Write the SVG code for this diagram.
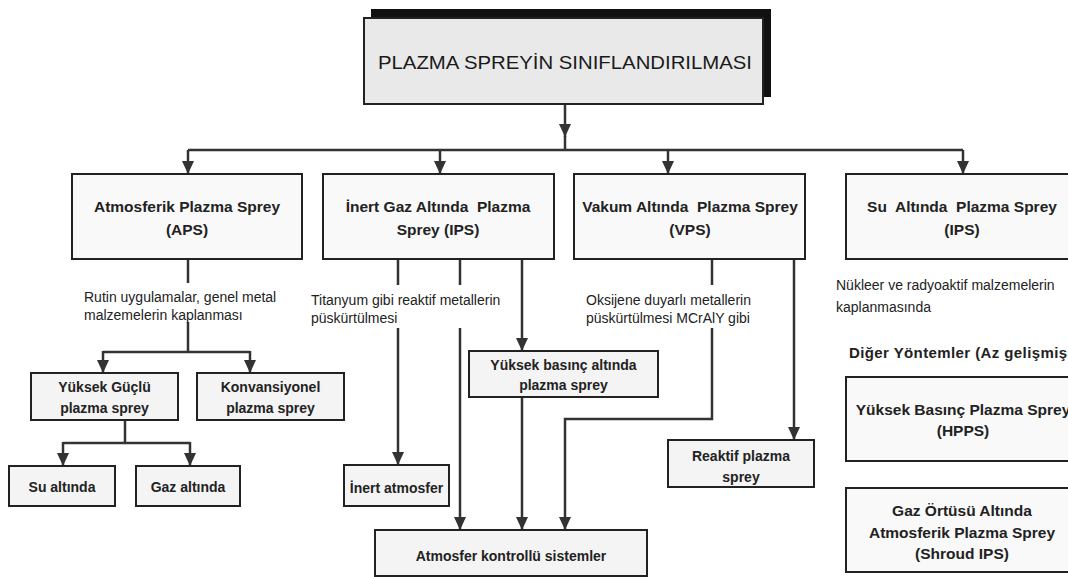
<svg xmlns="http://www.w3.org/2000/svg" width="1068" height="577" viewBox="0 0 1068 577">
<style>
text{white-space:pre}
.box{fill:#f4f4f4;stroke:#222;stroke-width:2}
.box1{fill:#f9f9f9;stroke:#222;stroke-width:2}
.t{font-family:"Liberation Sans",Arial,sans-serif;font-weight:bold;font-size:14px;fill:#222;text-anchor:middle}
.t1{font-family:"Liberation Sans",Arial,sans-serif;font-weight:bold;font-size:15.5px;fill:#222;text-anchor:middle}
.n{font-family:"Liberation Sans",Arial,sans-serif;font-size:14px;fill:#222}
.c{fill:none;stroke:#333;stroke-width:2.5}
.ca{fill:none;stroke:#333;stroke-width:2.5;marker-end:url(#ah)}
</style>
<defs>
<marker id="ah" markerUnits="userSpaceOnUse" markerWidth="13" markerHeight="12" refX="13" refY="6" orient="auto" viewBox="0 0 13 12">
<path d="M0,0 L13,6 L0,12 z" fill="#333"/>
</marker>
</defs>
<rect width="1068" height="577" fill="#fff"/>
<g id="connectors">
<path class="ca" d="M565,104 V137"/>
<path class="c" d="M565,136 V150"/>
<path class="c" d="M188,150 H963"/>
<path class="ca" d="M188,150 V174"/>
<path class="ca" d="M440,150 V174"/>
<path class="ca" d="M668,150 V174"/>
<path class="ca" d="M963,150 V174"/>
<path class="c" d="M188,259 V283"/>
<path class="c" d="M188,322 V352 M103,352 H250"/>
<path class="ca" d="M103,351 V373"/>
<path class="ca" d="M250,351 V373"/>
<path class="c" d="M125,420 V443 M63,443 H190"/>
<path class="ca" d="M63,442 V466"/>
<path class="ca" d="M190,442 V466"/>
<path class="c" d="M398,259 V285 M460,259 V285"/>
<path class="ca" d="M522,259 V351"/>
<path class="ca" d="M398,328 V465"/>
<path class="ca" d="M460,328 V530"/>
<path class="ca" d="M522,397 V530"/>
<path class="c" d="M712,259 V285"/>
<path class="ca" d="M712,328 V419 H565 V530"/>
<path class="ca" d="M794,259 V440"/>
</g>
<g id="title">
<rect x="371" y="9" width="400" height="88" fill="#111"/>
<rect x="364" y="18" width="399" height="86" fill="#e9e9e9" stroke="#222" stroke-width="2"/>
<text x="565" y="69" font-family="'Liberation Sans',Arial,sans-serif" font-size="19" fill="#1a1a1a" text-anchor="middle" textLength="374" lengthAdjust="spacingAndGlyphs">PLAZMA SPREYİN SINIFLANDIRILMASI</text>
</g>
<g id="aps">
<rect class="box1" x="72" y="174" width="230" height="85"/>
<text class="t1" x="187" y="212">Atmosferik Plazma Sprey</text>
<text class="t1" x="187" y="235">(APS)</text>
</g>
<g id="ips">
<rect class="box1" x="323" y="174" width="231" height="85"/>
<text class="t1" x="438" y="212">İnert Gaz Altında  Plazma</text>
<text class="t1" x="438" y="235">Sprey (IPS)</text>
</g>
<g id="vps">
<rect class="box1" x="574" y="174" width="231" height="85"/>
<text class="t1" x="690" y="212">Vakum Altında  Plazma Sprey</text>
<text class="t1" x="690" y="235">(VPS)</text>
</g>
<g id="su-ips">
<rect class="box1" x="846" y="174" width="240" height="85"/>
<text class="t1" x="962" y="212">Su  Altında  Plazma Sprey</text>
<text class="t1" x="962" y="235">(IPS)</text>
</g>
<g id="note-aps">
<text class="n" x="84" y="302">Rutin uygulamalar, genel metal</text>
<text class="n" x="84" y="320">malzemelerin kaplanması</text>
</g>
<g id="note-ips">
<text class="n" x="311" y="305">Titanyum gibi reaktif metallerin</text>
<text class="n" x="311" y="323">püskürtülmesi</text>
</g>
<g id="note-vps">
<text class="n" x="586" y="305">Oksijene duyarlı metallerin</text>
<text class="n" x="586" y="323">püskürtülmesi MCrAlY gibi</text>
</g>
<g id="note-su">
<text class="n" x="836" y="290">Nükleer ve radyoaktif malzemelerin</text>
<text class="n" x="836" y="312">kaplanmasında</text>
</g>
<g id="yuksek-guclu">
<rect class="box" x="31" y="373" width="147" height="47"/>
<text class="t" x="104.5" y="392">Yüksek Güçlü</text>
<text class="t" x="104.5" y="413">plazma sprey</text>
</g>
<g id="konvansiyonel">
<rect class="box" x="197" y="373" width="147" height="47"/>
<text class="t" x="270.5" y="392">Konvansiyonel</text>
<text class="t" x="270.5" y="413">plazma sprey</text>
</g>
<g id="su-altinda">
<rect class="box" x="9" y="466" width="106" height="40"/>
<text class="t" x="62" y="492">Su altında</text>
</g>
<g id="gaz-altinda">
<rect class="box" x="136" y="466" width="104" height="40"/>
<text class="t" x="188" y="492">Gaz altında</text>
</g>
<g id="inert-atmosfer">
<rect class="box" x="344" y="465" width="105" height="41"/>
<text class="t" x="396.5" y="493">İnert atmosfer</text>
</g>
<g id="yuksek-basinc">
<rect class="box" x="469" y="351" width="189" height="46"/>
<text class="t" x="563.5" y="370">Yüksek basınç altında</text>
<text class="t" x="563.5" y="390">plazma sprey</text>
</g>
<g id="atmosfer-kontrollu">
<rect class="box" x="375" y="530" width="272" height="46"/>
<text class="t" x="511" y="561">Atmosfer kontrollü sistemler</text>
</g>
<g id="reaktif">
<rect class="box" x="668" y="440" width="146" height="47"/>
<text class="t" x="741" y="461">Reaktif plazma</text>
<text class="t" x="741" y="482">sprey</text>
</g>
<g id="diger">
<text x="849" y="358" font-family="'Liberation Sans',Arial,sans-serif" font-weight="bold" font-size="15" letter-spacing="0.4" fill="#222">Diğer Yöntemler (Az gelişmiş</text>
</g>
<g id="hpps">
<rect class="box1" x="846" y="377" width="240" height="84"/>
<text class="t1" x="963" y="415">Yüksek Basınç Plazma Sprey</text>
<text class="t1" x="963" y="436">(HPPS)</text>
</g>
<g id="shroud">
<rect class="box1" x="846" y="488" width="240" height="84"/>
<text class="t1" x="962" y="516">Gaz Örtüsü Altında</text>
<text class="t1" x="962" y="538">Atmosferik Plazma Sprey</text>
<text class="t1" x="962" y="559">(Shroud IPS)</text>
</g>
</svg>
